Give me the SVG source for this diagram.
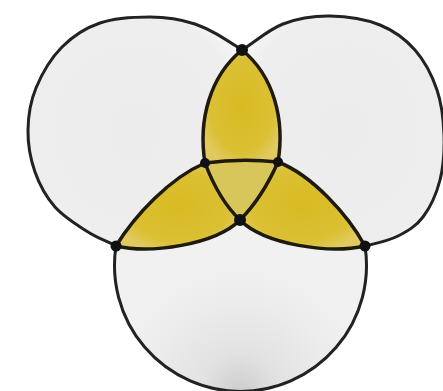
<svg xmlns="http://www.w3.org/2000/svg" width="443" height="391" viewBox="0 0 443 391">
<style>
.white{fill:url(#wg);stroke:none}
.petal{fill:#d9bd2b;stroke:none}
.mid{fill:#d9c65a;stroke:none}
.outer{fill:none;stroke:#222;stroke-width:3;stroke-linejoin:round}
.edge{fill:none;stroke:#1f1a0c;stroke-width:3.5;stroke-linecap:round}
.dot{fill:#111}
</style>
<defs>
<radialGradient id="wg" cx="0.5" cy="0.5" r="0.6">
<stop offset="0" stop-color="#ececec"/>
<stop offset="0.85" stop-color="#eeeeee"/>
<stop offset="1" stop-color="#f6f6f6"/>
</radialGradient>
<radialGradient id="bg" gradientUnits="userSpaceOnUse" cx="240" cy="392" r="130">
<stop offset="0" stop-color="#cdcdcd"/>
<stop offset="0.3" stop-color="#e2e2e2"/>
<stop offset="0.7" stop-color="#ececec"/>
<stop offset="1" stop-color="#f1f1f1"/>
</radialGradient>
<radialGradient id="yg" cx="0.5" cy="0.5" r="0.55">
<stop offset="0" stop-color="#d9ba22"/>
<stop offset="0.75" stop-color="#dbc034"/>
<stop offset="1" stop-color="#e0ca60"/>
</radialGradient>
</defs>
<rect width="443" height="391" fill="#ffffff"/>
<g id="circle-top-left">
<path class="white" d="M242,50 C225,39 212,30 195,24 C180,19 165.8,17 150,17 C134.2,17 114.7,18 100,23 C85.3,28 72.7,36.2 62,47 C51.3,57.8 41.7,74.2 36,88 C30.3,101.8 28.2,116 28,130 C27.8,144 30.5,159.2 35,172 C39.5,184.8 46.2,197 55,207 C63.8,217 77.7,225.5 88,232 C98.3,238.5 107.3,241.3 116,246 C135,215 170,178 205,163 C198,120 210,76 242,50 Z"/>
<path class="outer" d="M242,50 C225,39 212,30 195,24 C180,19 165.8,17 150,17 C134.2,17 114.7,18 100,23 C85.3,28 72.7,36.2 62,47 C51.3,57.8 41.7,74.2 36,88 C30.3,101.8 28.2,116 28,130 C27.8,144 30.5,159.2 35,172 C39.5,184.8 46.2,197 55,207 C63.8,217 77.7,225.5 88,232 C98.3,238.5 107.3,241.3 116,246"/>
</g>
<g id="circle-top-right">
<path class="white" d="M242,50 C255.7,41.3 268.3,29.7 283,24 C297.7,18.3 313.8,15.8 330,16 C346.2,16.2 365.8,19.3 380,25 C394.2,30.7 405.5,39.2 415,50 C424.5,60.8 432.2,75.8 437,90 C441.8,104.2 443.5,120 444,135 C444.5,150 443.5,166.3 440,180 C436.5,193.7 430,207.7 423,217 C416,226.3 407.7,231 398,236 C388.3,241 376,243.3 365,246 C348,215 312,175 278,162 C285,120 274,76 242,50 Z"/>
<path class="outer" d="M242,50 C255.7,41.3 268.3,29.7 283,24 C297.7,18.3 313.8,15.8 330,16 C346.2,16.2 365.8,19.3 380,25 C394.2,30.7 405.5,39.2 415,50 C424.5,60.8 432.2,75.8 437,90 C441.8,104.2 443.5,120 444,135 C444.5,150 443.5,166.3 440,180 C436.5,193.7 430,207.7 423,217 C416,226.3 407.7,231 398,236 C388.3,241 376,243.3 365,246"/>
</g>
<g id="circle-bottom">
<path d="M116,246 A126,126 0 1 0 365,246 C330,254 265,245 240,220 C215,245 150,254 116,246 Z" fill="url(#bg)"/>
<path class="outer" d="M116,246 A126,126 0 1 0 365,246"/>
</g>
<g id="petal-top">
<path class="petal" style="fill:url(#yg)" d="M242,50 C210,76 198,120 205,163 Q241,158 278,162 C285,120 274,76 242,50 Z"/>
</g>
<g id="petal-left">
<path class="petal" style="fill:url(#yg)" d="M116,246 C135,215 170,178 205,163 Q219,200 240,220 C215,245 150,254 116,246 Z"/>
</g>
<g id="petal-right">
<path class="petal" style="fill:url(#yg)" d="M365,246 C348,215 312,175 278,162 Q262,198 240,220 C265,245 330,254 365,246 Z"/>
</g>
<g id="center">
<path class="mid" d="M205,163 Q241,158 278,162 Q262,198 240,220 Q219,200 205,163 Z"/>
</g>
<g id="connectors">
<path class="edge" d="M242,50 C210,76 198,120 205,163"/>
<path class="edge" d="M242,50 C274,76 285,120 278,162"/>
<path class="edge" d="M116,246 C135,215 170,178 205,163"/>
<path class="edge" d="M116,246 C150,254 215,245 240,220"/>
<path class="edge" d="M365,246 C348,215 312,175 278,162"/>
<path class="edge" d="M365,246 C330,254 265,245 240,220"/>
<path class="edge" d="M205,163 Q241,158 278,162"/>
<path class="edge" d="M205,163 Q219,200 240,220"/>
<path class="edge" d="M278,162 Q262,198 240,220"/>
</g>
<g id="nodes">
<circle class="dot" cx="242" cy="50" r="6"/>
<circle class="dot" cx="116" cy="246" r="5.5"/>
<circle class="dot" cx="365" cy="246" r="5.5"/>
<circle class="dot" cx="240" cy="220" r="6"/>
<circle class="dot" cx="205" cy="163" r="5"/>
<circle class="dot" cx="278" cy="162" r="5"/>
</g>
</svg>
